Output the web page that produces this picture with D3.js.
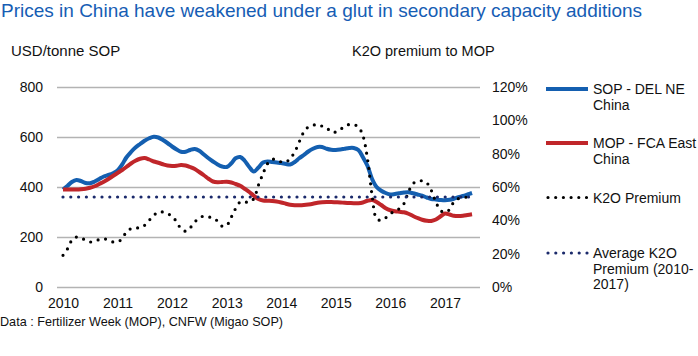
<!DOCTYPE html>
<html><head><meta charset="utf-8">
<script src="https://cdn.jsdelivr.net/npm/d3@7"></script>
<style>
body{margin:0;background:#fff;}
text{font-family:"Liberation Sans",Arial,sans-serif;fill:#111;}
</style>
</head><body>
<svg id="chart" width="698" height="356"></svg>
<script>
// ---- data (monthly, Jan 2010 – Jul 2017) ----
const startYear = 2010;
const sopValues = [390,405,420,428,424,416,415,422,432,442,448,455,
  466,490,518,540,558,572,585,595,601,598,588,576,
  562,550,541,541,548,552,545,530,515,502,490,482,
  480,495,515,520,505,480,462,478,498,502,500,498,
  496,492,490,500,515,528,542,553,560,560,553,549,
  548,550,553,556,556,548,520,485,432,400,385,376,
  370,372,375,378,379,375,370,365,358,352,350,348,
  347,349,353,359,364,370,376];
const mopValues = [390,390,390,390,391,393,397,403,412,421,432,444,
  456,468,480,494,505,513,516,510,502,497,491,486,
  484,485,488,486,480,472,460,447,433,422,419,420,
  421,418,412,405,393,380,365,352,346,345,344,342,
  338,333,329,327,327,328,330,333,337,339,340,340,
  339,338,337,336,335,335,338,345,348,340,328,315,
  307,303,301,299,293,284,276,269,265,264,270,282,
  294,290,285,284,285,288,291];
const k2oPremium = [19,23,28,30,29.5,28,27,27.5,28.5,29,28,27,
  27,29,33,35,35.5,35.5,37,40,43,45,45,44,
  42.5,39,35,33.5,35.5,39,41.5,42.5,42,41.5,39.5,36.5,
  37,42,47,51,51,51,53,61,68,74,76.5,76.5,
  75,75,77,81,87,93,96,97,97.5,96.5,95.5,93,
  93,94.5,96.5,97.5,97.5,96,91,77,55,41,40,41.5,
  44,45.5,47,50,57,62,63.5,63.7,62.5,58,51,46,
  44.8,46.5,51,53,53.5,54,54];
const avgPremium = 54;
const yLeftTicks = [0,200,400,600,800];
const yRightTicks = [0,20,40,60,80,100,120];
const xTickYears = [2010,2011,2012,2013,2014,2015,2016,2017];
const legendLabels = [["SOP - DEL NE","China"],["MOP - FCA East","China"],["K2O Premium"],["Average K2O","Premium (2010-","2017)"]];

const dates = sopValues.map((_,i)=>new Date(startYear, i, 1));

// ---- layout ----
const svg = d3.select("#chart");
const L = 57, R = 480, T = 87, B = 287;
const x = d3.scaleTime().domain([new Date(2010,0,1), new Date(2017,0,1)]).range([63,445]);
const yL = d3.scaleLinear().domain([0,800]).range([B,T]);
const yR = d3.scaleLinear().domain([0,120]).range([B,T]);

// gridlines
svg.append("g").attr("transform",`translate(${L},0)`)
  .call(d3.axisLeft(yL).tickValues(yLeftTicks).tickSize(-(R-L)).tickFormat(""))
  .call(g=>g.select(".domain").remove())
  .call(g=>g.selectAll("line").attr("stroke","#b3b3b3").attr("stroke-width",1.6));

// left axis labels
svg.append("g").attr("transform",`translate(${L},0)`)
  .call(d3.axisLeft(yL).tickValues(yLeftTicks).tickSize(0).tickPadding(14))
  .call(g=>g.select(".domain").remove())
  .call(g=>g.selectAll("text").attr("font-size",14).attr("font-family","Liberation Sans, Arial, sans-serif").attr("fill","#111"));

// right axis labels
svg.append("g").attr("transform",`translate(${R},0)`)
  .call(d3.axisRight(yR).tickValues(yRightTicks).tickSize(0).tickPadding(12).tickFormat(d=>d+"%"))
  .call(g=>g.select(".domain").remove())
  .call(g=>g.selectAll("text").attr("font-size",14).attr("font-family","Liberation Sans, Arial, sans-serif").attr("fill","#111"));

// bottom axis labels
svg.append("g").attr("transform",`translate(0,${B})`)
  .call(d3.axisBottom(x).tickValues(xTickYears.map(y=>new Date(y,0,1))).tickSize(0).tickPadding(11).tickFormat(d3.timeFormat("%Y")))
  .call(g=>g.select(".domain").remove())
  .call(g=>g.selectAll("text").attr("font-size",14).attr("font-family","Liberation Sans, Arial, sans-serif").attr("fill","#111"));

const curve = d3.curveCatmullRom.alpha(0.5);
const lineL = d3.line().x((d,i)=>x(dates[i])).y(d=>yL(d)).curve(curve);
const lineR = d3.line().x((d,i)=>x(dates[i])).y(d=>yR(d)).curve(curve);

const blue = "#145fb0", red = "#c0262a", navy = "#1b2a6b";

svg.append("path").datum(sopValues).attr("d",lineL).attr("fill","none").attr("stroke",blue).attr("stroke-width",4).attr("stroke-linejoin","round");
svg.append("path").datum(mopValues).attr("d",lineL).attr("fill","none").attr("stroke",red).attr("stroke-width",4).attr("stroke-linejoin","round");
svg.append("path").datum(k2oPremium).attr("d",lineR).attr("fill","none").attr("stroke","#000").attr("stroke-width",3.2).attr("stroke-linecap","round").attr("stroke-dasharray","0 7.7");
svg.append("path").datum(k2oPremium.map(()=>avgPremium)).attr("d",lineR).attr("fill","none").attr("stroke",navy).attr("stroke-width",3.2).attr("stroke-linecap","round").attr("stroke-dasharray","0 7.8");

// titles
svg.append("text").attr("x",1).attr("y",17).attr("font-size",19).style("fill","#165db4")
  .text("Prices in China have weakened under a glut in secondary capacity additions");
svg.append("text").attr("x",11).attr("y",56).attr("font-size",15).text("USD/tonne SOP");
svg.append("text").attr("x",352).attr("y",56).attr("font-size",14.5).text("K2O premium to MOP");
svg.append("text").attr("x",0).attr("y",326).attr("font-size",13).attr("textLength",283).attr("lengthAdjust","spacingAndGlyphs")
  .text("Data : Fertilizer Week (MOP), CNFW (Migao SOP)");

// legend
const legY = [89,143,197.5,253];
const legStyles = [
  {stroke:blue,w:4,dash:null,cap:"butt"},
  {stroke:red,w:4,dash:null,cap:"butt"},
  {stroke:"#000",w:3.2,dash:"0 7.7",cap:"round"},
  {stroke:navy,w:3.2,dash:"0 7.8",cap:"round"}];
legendLabels.forEach((lines,i)=>{
  const s = legStyles[i];
  const g = svg.append("g");
  g.append("line").attr("x1",i<2?546:548).attr("x2",588).attr("y1",legY[i]).attr("y2",legY[i])
    .attr("stroke",s.stroke).attr("stroke-width",s.w).attr("stroke-linecap",s.cap).attr("stroke-dasharray",s.dash);
  lines.forEach((t,j)=>{
    g.append("text").attr("x",593).attr("y",legY[i]+5+j*15.5).attr("font-size",14).text(t);
  });
});
</script>
</body></html>
